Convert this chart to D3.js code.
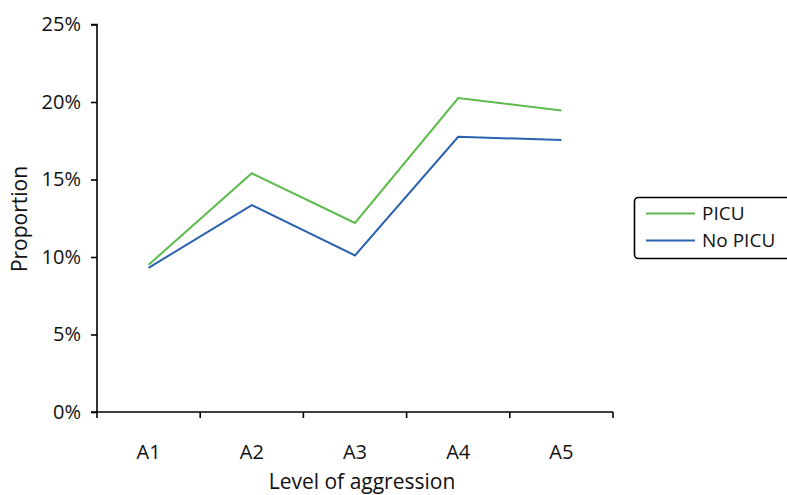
<!DOCTYPE html>
<html><head><meta charset="utf-8">
<script src="https://cdn.jsdelivr.net/npm/d3@7/dist/d3.min.js"></script>
<style>
body{margin:0;background:#fff;}
text{font-family:"Open Sans",sans-serif;fill:#111;}
</style></head>
<body><svg id="c" width="787" height="495"></svg>
<script>
const categories = ["A1","A2","A3","A4","A5"];
const picu = [9.5, 15.4, 12.2, 20.25, 19.45];
const noPicu = [9.3, 13.35, 10.1, 17.75, 17.55];
const yTicks = [0,5,10,15,20,25];
const seriesNames = ["PICU","No PICU"];
const colors = ["#5dbb4c","#2a62ae"];

const svg = d3.select("#c");
const x = d3.scaleBand().domain(categories).range([97,613]).padding(0);
const y = d3.scaleLinear().domain([0,25]).range([412,24.5]);

// y axis
const ya = svg.append("g").attr("transform","translate(97,0)")
  .call(d3.axisLeft(y).tickValues(yTicks).tickFormat(d=>d+"%").tickSize(6).tickPadding(10));
ya.select(".domain").attr("stroke","#000").attr("stroke-width",1.6).attr("d","M-6,24.5H0V412H-6");
ya.selectAll(".tick line").attr("stroke","#000").attr("stroke-width",1.6);
ya.selectAll(".tick text").style("font-size","20px").attr("fill","#111").style("font-family","'Open Sans',sans-serif");

// x axis with ticks at band boundaries
const xa = svg.append("g").attr("transform","translate(0,412)");
xa.append("line").attr("x1",97).attr("x2",613).attr("y1",0).attr("y2",0).attr("stroke","#000").attr("stroke-width",1.6);
const bounds = categories.map(c=>x(c)).concat([x(categories[categories.length-1])+x.bandwidth()]);
xa.selectAll("line.t").data(bounds).enter().append("line").attr("class","t")
  .attr("x1",d=>d).attr("x2",d=>d).attr("y1",0).attr("y2",6).attr("stroke","#000").attr("stroke-width",1.6);
xa.selectAll("text").data(categories).enter().append("text")
  .attr("x",d=>x(d)+x.bandwidth()/2).attr("y",46.5).attr("text-anchor","middle")
  .style("font-size","20px").text(d=>d);

// titles
svg.append("text").attr("x",362).attr("y",489).attr("text-anchor","middle").style("font-size","21px").text("Level of aggression");
svg.append("text").attr("transform","translate(26.5,219) rotate(-90)").attr("text-anchor","middle").style("font-size","21px").text("Proportion");

// lines
const line = d3.line().x((d,i)=>x(categories[i])+x.bandwidth()/2).y(d=>y(d));
[picu,noPicu].forEach((s,k)=>{
  svg.append("path").datum(s).attr("d",line).attr("fill","none").attr("stroke",colors[k]).attr("stroke-width",2);
});

// legend
const lg = svg.append("g");
lg.append("rect").attr("x",634.5).attr("y",197.5).attr("width",160).attr("height",61).attr("rx",4)
  .attr("fill","#fff").attr("stroke","#000").attr("stroke-width",1.6);
seriesNames.forEach((n,k)=>{
  const yy = 213.5 + k*27;
  lg.append("line").attr("x1",646).attr("x2",695).attr("y1",yy).attr("y2",yy).attr("stroke",colors[k]).attr("stroke-width",2);
  lg.append("text").attr("x",702).attr("y",yy).attr("dy","0.35em").style("font-size","19px").text(n);
});
</script></body></html>
